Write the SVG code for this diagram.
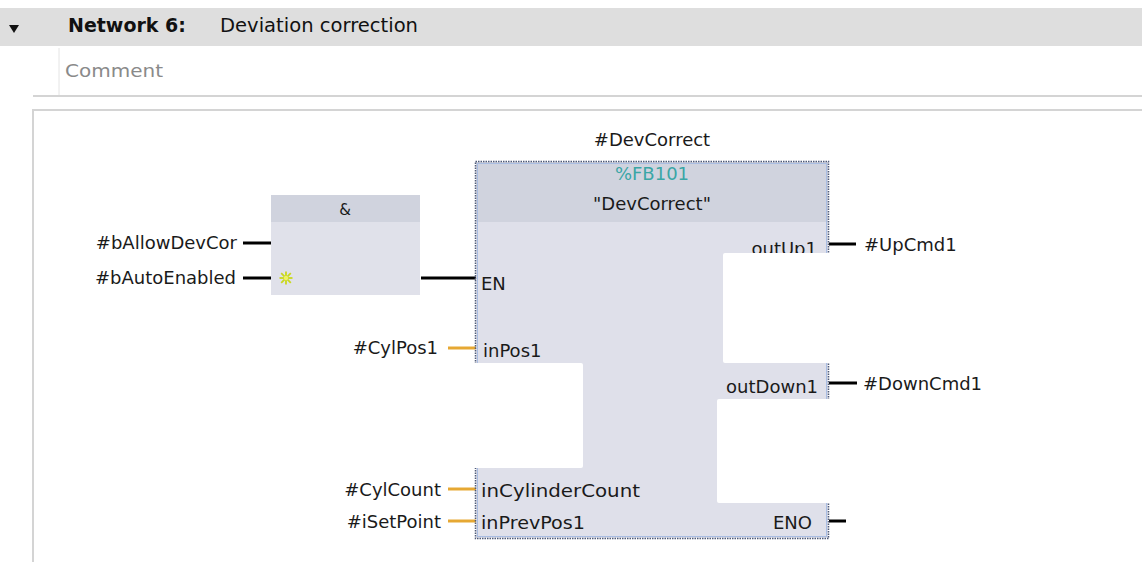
<svg xmlns="http://www.w3.org/2000/svg" width="1142" height="562" viewBox="0 0 1142 562">
  <style>
    .t { font-family: "DejaVu Sans", Verdana, sans-serif; font-size: 18px; fill: #1a1a1a; }
    .hdr { font-family: "DejaVu Sans", Verdana, sans-serif; font-size: 19px; fill: #111; }
    .wb { stroke: #000; stroke-width: 3; fill: none; }
    .wo { stroke: #e6a833; stroke-width: 3; fill: none; }
    .frame { stroke: #d4d4d4; stroke-width: 2; fill: none; }
    .mask { fill: #fff; }
  </style>

  <rect width="1142" height="562" fill="#fff"/>

  <!-- network title bar -->
  <g id="title">
    <rect x="0" y="8" width="1142" height="38" fill="#dedede"/>
    <polygon points="9,25 19,25 14,33" fill="#111"/>
    <text class="hdr" x="68" y="32" font-weight="bold">Network 6:</text>
    <text class="hdr" x="220" y="32" textLength="198" lengthAdjust="spacingAndGlyphs">Deviation correction</text>
  </g>

  <!-- comment row and network frame -->
  <g id="comment">
    <line x1="59" y1="48" x2="59" y2="95" stroke="#e4e4e4" stroke-width="1"/>
    <text class="t" x="65" y="77" style="fill:#8a8a8a" textLength="98" lengthAdjust="spacingAndGlyphs">Comment</text>
    <line class="frame" x1="33" y1="96" x2="1142" y2="96"/>
  </g>
  <g id="frame">
    <path class="frame" d="M1142,110 H33 V562"/>
  </g>

  <!-- wires -->
  <g id="connectors">
    <line class="wb" x1="243" y1="243" x2="271" y2="243"/>
    <line class="wb" x1="243" y1="278" x2="271" y2="278"/>
    <line class="wb" x1="421" y1="278" x2="476" y2="278"/>
    <line class="wo" x1="448" y1="348" x2="476" y2="348"/>
    <line class="wo" x1="448" y1="489" x2="476" y2="489"/>
    <line class="wo" x1="448" y1="521" x2="476" y2="521"/>
    <line class="wb" x1="829" y1="244" x2="856" y2="244"/>
    <line class="wb" x1="829" y1="383" x2="857" y2="383"/>
    <line class="wb" x1="829" y1="521" x2="846" y2="521"/>
  </g>

  <!-- operands -->
  <g id="op-bAllowDevCor"><text class="t" x="237" y="249" text-anchor="end">#bAllowDevCor</text></g>
  <g id="op-bAutoEnabled"><text class="t" x="236" y="284" text-anchor="end">#bAutoEnabled</text></g>
  <g id="op-CylPos1"><text class="t" x="438" y="354" text-anchor="end">#CylPos1</text></g>
  <g id="op-CylCount"><text class="t" x="441" y="496" text-anchor="end">#CylCount</text></g>
  <g id="op-iSetPoint"><text class="t" x="441" y="528" text-anchor="end">#iSetPoint</text></g>
  <g id="op-UpCmd1"><text class="t" x="864" y="251">#UpCmd1</text></g>
  <g id="op-DownCmd1"><text class="t" x="863" y="390">#DownCmd1</text></g>

  <!-- AND box -->
  <g id="and">
    <rect x="271" y="195" width="149" height="100" fill="#e0e1ea"/>
    <rect x="271" y="195" width="149" height="27" fill="#d0d3de"/>
    <text class="t" x="345" y="215" text-anchor="middle" style="font-size:15px">&amp;</text>
    <g transform="translate(286,278)" stroke="#c9d81c" stroke-width="1.8">
      <line x1="-6.5" y1="0" x2="6.5" y2="0"/>
      <line x1="0" y1="-6.5" x2="0" y2="6.5"/>
      <line x1="-4.8" y1="-4.8" x2="4.8" y2="4.8"/>
      <line x1="-4.8" y1="4.8" x2="4.8" y2="-4.8"/>
      <circle r="2.2" fill="#eef26a" stroke="none"/>
    </g>
  </g>

  <!-- function block instance -->
  <g id="fb">
    <text class="t" x="652" y="146" text-anchor="middle">#DevCorrect</text>
    <rect x="476" y="162" width="352" height="376" fill="#dfe0ea"/>
    <rect x="476" y="162" width="352" height="60" fill="#d0d3de"/>
    <rect x="477.5" y="163.5" width="349" height="373" fill="none" stroke="#a9bde2" stroke-width="1"/>
    <rect x="475.5" y="161.5" width="353" height="377" fill="none" stroke="#4e5a78" stroke-width="1.5" stroke-dasharray="1.5 1"/>
    <text class="t" x="652" y="180" text-anchor="middle" style="fill:#3aa6a6">%FB101</text>
    <text class="t" x="652" y="210" text-anchor="middle">"DevCorrect"</text>

    <text class="t" x="481" y="290">EN</text>
    <text class="t" x="483" y="357">inPos1</text>
    <text class="t" x="481" y="497" textLength="159" lengthAdjust="spacingAndGlyphs">inCylinderCount</text>
    <text class="t" x="481" y="529" textLength="104" lengthAdjust="spacingAndGlyphs">inPrevPos1</text>
    <text class="t" x="817" y="255" text-anchor="end">outUp1</text>
    <text class="t" x="818" y="393" text-anchor="end">outDown1</text>
    <text class="t" x="812" y="529" text-anchor="end">ENO</text>

    <!-- blank cut-outs in the box body -->
    <rect class="mask" x="470" y="363" width="113" height="105" rx="2"/>
    <rect class="mask" x="723" y="253" width="112" height="110" rx="2"/>
    <rect class="mask" x="717" y="399" width="118" height="104" rx="2"/>
  </g>
</svg>
